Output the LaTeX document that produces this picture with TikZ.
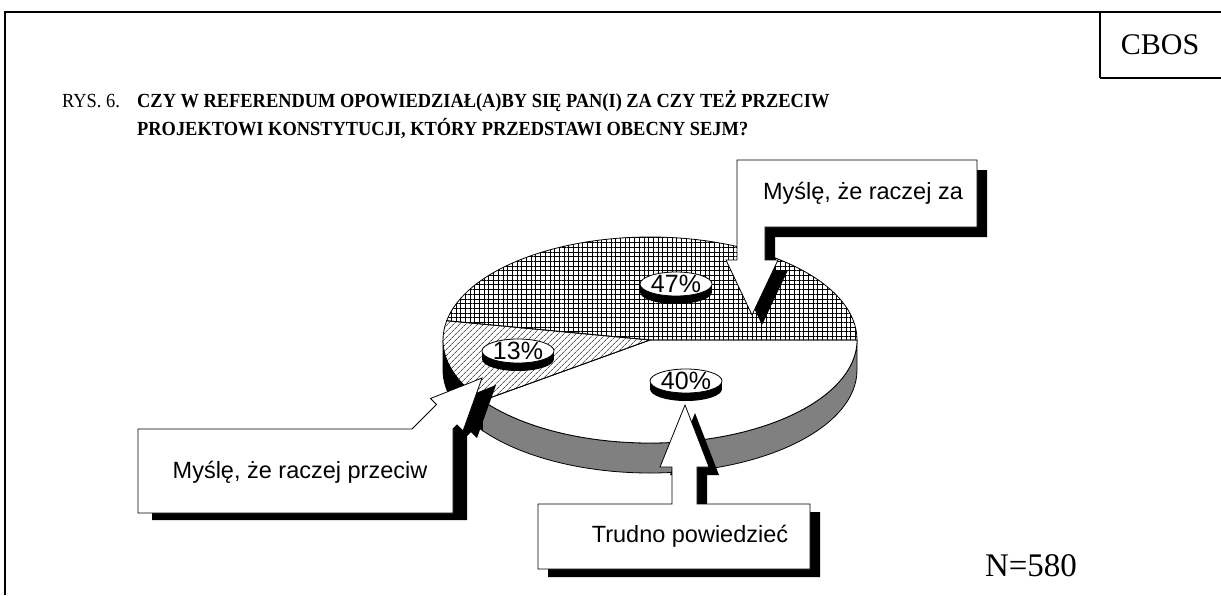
\documentclass[tikz,border=0pt]{standalone}
\usepackage{graphicx}
\usepackage{fontspec}
\setmainfont{Liberation Serif}
\newfontfamily\arialfont{Liberation Sans}
\usetikzlibrary{patterns.meta,calc}
\tikzset{
  frameline/.style={line width=2pt},
  thin outline/.style={draw=black,line width=0.8pt},
  shadowfill/.style={fill=black},
  calloutbody/.style={fill=white,draw=black,line width=0.8pt},
  labeltext/.style={font=\arialfont\fontsize{23.5}{28}\selectfont,inner sep=0pt},
  pcttext/.style={font=\arialfont\fontsize{25}{29}\selectfont,inner sep=0pt},
  titletext/.style={anchor=base west,inner sep=0pt},
  gridfill/.style={pattern={Hatch[angle=0,distance=4.7pt,line width=0.7pt]}},
  hatchfill/.style={pattern={Lines[angle=45,distance=4pt,line width=0.6pt]}},
}
\newcommand{\pctdisk}[4]{%
  \fill[black] (#2-36,#3) rectangle (#2+36,#3+8);
  \fill[black] (#2,#3+8) ellipse[x radius=36,y radius=12];
  \filldraw[fill=white,draw=black,line width=0.8pt] (#2,#3) ellipse[x radius=36,y radius=12];
  \node[pcttext] (#1) at (#2,#3) {#4};
}
\newcommand{\condensed}[1]{\scalebox{0.92}[1]{#1}}
\begin{document}
\begin{tikzpicture}[x=1pt,y=-1pt]
\useasboundingbox (0,0) rectangle (1221,595);
% frame
\draw[frameline] (5,595) -- (5,12) -- (1221,12);
\draw[line width=1.6pt] (1100,12) -- (1100,78);
\draw[frameline] (1100,78) -- (1221,78);
\node[font=\fontsize{30}{34}\selectfont] (cbos) at (1160,45) {CBOS};
% title
\node[titletext] (rys) at (62,107) {\condensed{\fontsize{20}{24}\selectfont RYS. 6.}};
\node[titletext] (t1) at (137,107) {\condensed{\bfseries\fontsize{20}{24}\selectfont CZY W REFERENDUM OPOWIEDZIAŁ(A)BY SIĘ PAN(I) ZA CZY TEŻ PRZECIW}};
\node[titletext] (t2) at (137,135) {\condensed{\bfseries\fontsize{20}{24}\selectfont PROJEKTOWI KONSTYTUCJI, KTÓRY PRZEDSTAWI OBECNY SEJM?}};
% pie
\coordinate (pc) at (650,340);
% sides
\filldraw[fill=black,thin outline] ($(pc)+(-180:207 and 103)$) arc[start angle=-180,end angle=-216,x radius=207,y radius=103] -- ++(0,30) arc[start angle=-216,end angle=-180,x radius=207,y radius=103] -- cycle;
\filldraw[fill=gray,thin outline] ($(pc)+(-216:207 and 103)$) arc[start angle=-216,end angle=-360,x radius=207,y radius=103] -- ++(0,30) arc[start angle=-360,end angle=-216,x radius=207,y radius=103] -- cycle;
% top slices
\fill[white] (pc) ellipse[x radius=207,y radius=103];
\fill[gridfill] (pc) -- ($(pc)+(0:207 and 103)$) arc[start angle=0,end angle=-169.2,x radius=207,y radius=103] -- cycle;
\draw[thin outline] (pc) -- ($(pc)+(0:207 and 103)$) arc[start angle=0,end angle=-169.2,x radius=207,y radius=103] -- cycle;
\fill[hatchfill] (pc) -- ($(pc)+(-169.2:207 and 103)$) arc[start angle=-169.2,end angle=-216,x radius=207,y radius=103] -- cycle;
\draw[thin outline] (pc) -- ($(pc)+(-169.2:207 and 103)$) arc[start angle=-169.2,end angle=-216,x radius=207,y radius=103] -- cycle;
\draw[thin outline] (pc) -- ($(pc)+(-216:207 and 103)$) arc[start angle=-216,end angle=-360,x radius=207,y radius=103] -- cycle;
% percentage disks
\pctdisk{p47}{676}{284}{47\%}
\pctdisk{p13}{518}{351}{13\%}
\pctdisk{p40}{686}{381}{40\%}
% callout: za
\fill[shadowfill,shift={(10,10)}] (737,160) -- (977,160) -- (977,227) -- (765,227) -- (765,260) -- (778,260) -- (752,315) -- (726,260) -- (737,260) -- cycle;
\filldraw[calloutbody] (737,160) -- (977,160) -- (977,227) -- (765,227) -- (765,260) -- (778,260) -- (752,315) -- (726,260) -- (737,260) -- cycle;
\node[labeltext] (za) at (863,193) {Myślę, że raczej za};
% callout: przeciw
\fill[shadowfill,shift={(14,7)}] (138,429) -- (412,429) -- (436.5,404.5) -- (430.5,398.5) -- (482,378) -- (463,431) -- (457,425) -- (453,429) -- (453,513) -- (138,513) -- cycle;
\filldraw[calloutbody] (138,429) -- (412,429) -- (436.5,404.5) -- (430.5,398.5) -- (482,378) -- (463,431) -- (457,425) -- (453,429) -- (453,513) -- (138,513) -- cycle;
\node[labeltext] (przeciw) at (300,472) {Myślę, że raczej przeciw};
% callout: trudno
\fill[shadowfill,shift={(10,8)}] (538,504) -- (672,504) -- (672,467) -- (660,467) -- (685,405) -- (709,467) -- (697,467) -- (697,504) -- (810,504) -- (810,569) -- (538,569) -- cycle;
\filldraw[calloutbody] (538,504) -- (672,504) -- (672,467) -- (660,467) -- (685,405) -- (709,467) -- (697,467) -- (697,504) -- (810,504) -- (810,569) -- (538,569) -- cycle;
\node[labeltext] (trudno) at (690,536) {Trudno powiedzieć};
% N
\node[font=\fontsize{33}{37}\selectfont,inner sep=0pt] (nn) at (1031,566) {N=580};
\end{tikzpicture}
\end{document}
